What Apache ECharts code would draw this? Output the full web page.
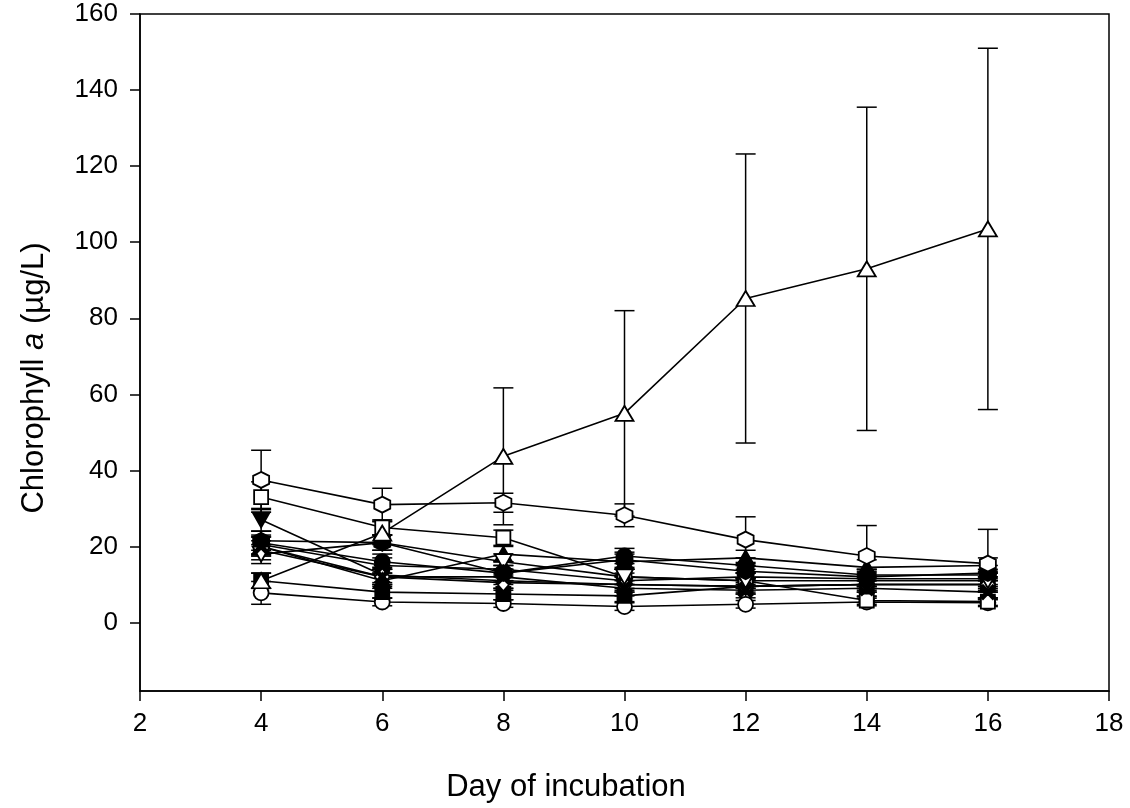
<!DOCTYPE html>
<html>
<head>
<meta charset="utf-8">
<script src="https://cdn.jsdelivr.net/npm/echarts@6/dist/echarts.min.js"></script>
<style>
  html, body { margin: 0; padding: 0; background: #fff; }
  #chart { width: 1130px; height: 808px; }
</style>
</head>
<body>
<div id="chart"></div>
<script>
// Sampling days
const days = [4, 6, 8, 10, 12, 14, 16];
const yTicks = [0, 20, 40, 60, 80, 100, 120, 140, 160];
const xTicks = [2, 4, 6, 8, 10, 12, 14, 16, 18];

// Mean chlorophyll a (µg/L) per treatment, and standard deviations
const filledCircle      = [21.0, 16.0, 13.0, 17.5, 15.0, 12.5, 12.5];
const filledCircleSd    = [3.0, 2.0, 2.0, 2.0, 2.0, 1.5, 1.5];
const openCircle        = [7.8, 5.4, 5.0, 4.2, 4.8, 5.4, 5.2];
const openCircleSd      = [3.0, 1.0, 1.0, 1.0, 1.0, 1.0, 1.0];
const filledTriDown     = [27.0, 12.5, 11.0, 10.0, 9.5, 10.0, 10.0];
const filledTriDownSd   = [3.0, 2.0, 2.0, 2.0, 2.0, 2.0, 2.0];
const openTriUp         = [11.0, 23.5, 43.7, 55.0, 85.2, 93.0, 103.5];
const openTriUpSd       = [2.0, 3.0, 18.0, 27.0, 38.0, 42.5, 47.5];
const filledSquare      = [11.0, 8.0, 7.5, 7.0, 9.5, 10.0, 10.0];
const filledSquareSd    = [2.0, 1.5, 1.5, 1.5, 1.5, 1.5, 1.5];
const openSquare        = [33.0, 25.0, 22.3, 12.0, 11.0, 5.8, 5.5];
const openSquareSd      = [4.0, 2.0, 2.0, 2.0, 2.0, 1.0, 1.0];
const filledDiamond     = [20.5, 15.0, 14.0, 11.0, 12.0, 11.5, 11.5];
const filledDiamondSd   = [2.5, 2.0, 2.0, 2.0, 2.0, 2.0, 2.0];
const openDiamond       = [19.0, 12.0, 10.5, 10.0, 9.5, 10.0, 10.0];
const openDiamondSd     = [2.5, 2.0, 2.0, 2.0, 2.0, 2.0, 2.0];
const filledTriUp       = [20.0, 11.0, 18.0, 16.0, 17.0, 14.5, 15.0];
const filledTriUpSd     = [2.5, 2.0, 2.0, 2.0, 2.0, 2.0, 2.0];
const openTriDown       = [18.0, 21.0, 16.0, 12.0, 11.0, 11.0, 11.0];
const openTriDownSd     = [2.5, 2.0, 2.0, 2.0, 2.0, 2.0, 2.0];
const filledHexagon     = [21.5, 21.0, 13.0, 16.5, 13.5, 12.0, 13.0];
const filledHexagonSd   = [2.5, 2.0, 2.0, 2.0, 2.0, 2.0, 2.0];
const openHexagon       = [37.5, 31.0, 31.5, 28.2, 21.8, 17.5, 15.5];
const openHexagonSd     = [7.8, 4.3, 2.5, 3.0, 6.0, 8.0, 9.0];
const filledCross       = [20.0, 12.0, 12.0, 9.0, 8.5, 9.0, 8.0];
const filledCrossSd     = [2.5, 2.0, 2.0, 2.0, 2.0, 2.0, 2.0];

const HEX = 'path://M5,0 L9.33,2.5 L9.33,7.5 L5,10 L0.67,7.5 L0.67,2.5 Z';
const TRI_DOWN = 'path://M0,0 L10,0 L5,10 Z';
const CROSS = 'path://M0,1.5 L1.5,0 L5,3.5 L8.5,0 L10,1.5 L6.5,5 L10,8.5 L8.5,10 L5,6.5 L1.5,10 L0,8.5 L3.5,5 Z';

const groups = [
  { vals: filledCircle,  sd: filledCircleSd,  symbol: 'circle',   size: 15, filled: true },
  { vals: openCircle,    sd: openCircleSd,    symbol: 'circle',   size: 15, filled: false },
  { vals: filledTriDown, sd: filledTriDownSd, symbol: TRI_DOWN,   size: [17, 15], filled: true },
  { vals: filledSquare,  sd: filledSquareSd,  symbol: 'rect',     size: 14, filled: true },
  { vals: openSquare,    sd: openSquareSd,    symbol: 'rect',     size: 14, filled: false },
  { vals: filledDiamond, sd: filledDiamondSd, symbol: 'diamond',  size: [15, 17], filled: true },
  { vals: openDiamond,   sd: openDiamondSd,   symbol: 'diamond',  size: [15, 17], filled: false },
  { vals: filledTriUp,   sd: filledTriUpSd,   symbol: 'triangle', size: [17, 15], filled: true },
  { vals: openTriDown,   sd: openTriDownSd,   symbol: TRI_DOWN,   size: [17, 15], filled: false },
  { vals: filledHexagon, sd: filledHexagonSd, symbol: HEX,        size: 16, filled: true },
  { vals: filledCross,   sd: filledCrossSd,   symbol: CROSS,      size: 14, filled: true },
  { vals: openHexagon,   sd: openHexagonSd,   symbol: HEX,        size: 16, filled: false },
  { vals: openTriUp,     sd: openTriUpSd,     symbol: 'triangle', size: [18, 15], filled: false }
];

// Error bars: [day, mean, sd] for every treatment
const errorData = [];
groups.forEach(g => g.vals.forEach((v, i) => errorData.push([days[i], v, g.sd[i]])));

const series = [{
  type: 'custom',
  z: 1,
  silent: true,
  data: errorData,
  renderItem: function (params, api) {
    const x = api.value(0), m = api.value(1), s = api.value(2);
    const top = api.coord([x, m + s]);
    const bot = api.coord([x, m - s]);
    const half = 10;
    const st = { stroke: '#000', lineWidth: 1.5 };
    return {
      type: 'group',
      children: [
        { type: 'line', shape: { x1: top[0], y1: top[1], x2: bot[0], y2: bot[1] }, style: st },
        { type: 'line', shape: { x1: top[0] - half, y1: top[1], x2: top[0] + half, y2: top[1] }, style: st },
        { type: 'line', shape: { x1: bot[0] - half, y1: bot[1], x2: bot[0] + half, y2: bot[1] }, style: st }
      ]
    };
  }
}];

groups.forEach(g => {
  series.push({
    type: 'line',
    z: 2,
    data: g.vals.map((v, i) => [days[i], v]),
    symbol: g.symbol,
    symbolSize: g.size,
    showAllSymbol: true,
    lineStyle: { color: '#000', width: 1.6 },
    itemStyle: { color: g.filled ? '#000' : '#fff', borderColor: '#000', borderWidth: 1.8 },
    emphasis: { disabled: true },
    animation: false
  });
});

const chart = echarts.init(document.getElementById('chart'), null, { renderer: 'canvas' });
const fontFam = '"Liberation Sans", Arial, sans-serif';
chart.setOption({
  backgroundColor: '#fff',
  animation: false,
  grid: { left: 140, right: 21, top: 14, bottom: 117, show: true, borderColor: '#000', borderWidth: 1.5, backgroundColor: 'transparent' },
  xAxis: {
    type: 'value', min: 2, max: 18, interval: 2,
    axisLine: { onZero: false, lineStyle: { color: '#000', width: 1.5 } },
    axisTick: { inside: false, length: 10, lineStyle: { color: '#000', width: 1.5 } },
    axisLabel: { color: '#000', fontSize: 26, fontFamily: fontFam, margin: 20 },
    splitLine: { show: false }
  },
  yAxis: {
    type: 'value', min: -18, max: 160,
    axisLine: { show: true, onZero: false, lineStyle: { color: '#000', width: 1.5 } },
    axisTick: { show: true, length: 10, customValues: yTicks, lineStyle: { color: '#000', width: 1.5 } },
    axisLabel: { color: '#000', fontSize: 26, fontFamily: fontFam, margin: 22, customValues: yTicks },
    splitLine: { show: false }
  },
  graphic: [
    {
      type: 'text', x: 566, y: 787,
      style: { text: 'Day of incubation', font: '31px ' + fontFam, fill: '#000', align: 'center', verticalAlign: 'middle' }
    },
    {
      type: 'text', x: 34, y: 378, rotation: Math.PI / 2,
      style: {
        text: '{n|Chlorophyll }{i|a}{n| (µg/L)}',
        align: 'center', verticalAlign: 'middle', fill: '#000',
        rich: {
          n: { fontSize: 31, fontFamily: fontFam, fill: '#000' },
          i: { fontSize: 31, fontFamily: fontFam, fontStyle: 'italic', fill: '#000' }
        }
      }
    }
  ],
  series: series
});
</script>
</body>
</html>
